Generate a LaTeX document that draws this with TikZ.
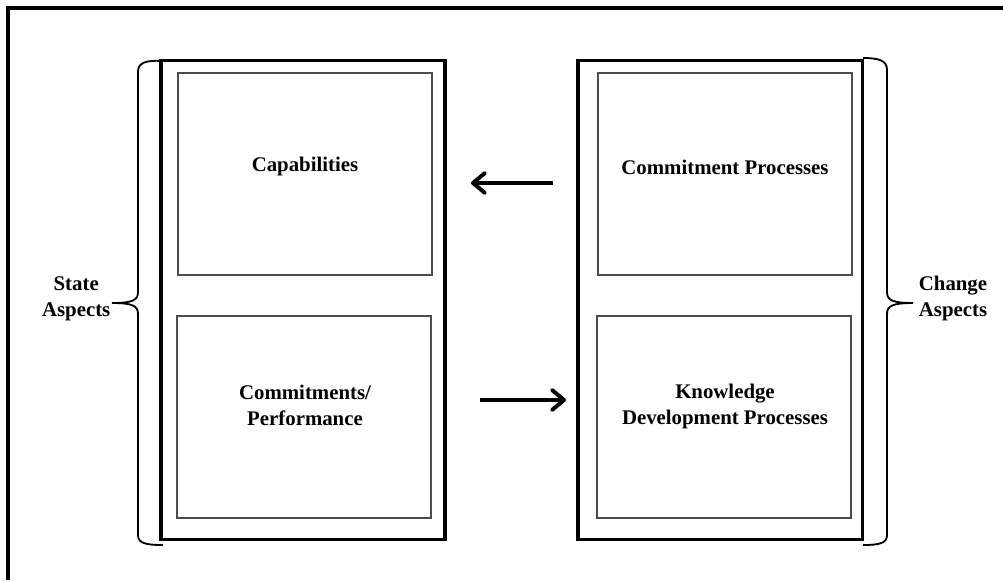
\documentclass[tikz,border=0pt]{standalone}
\usepackage{fontspec}
\setmainfont{Liberation Serif}
\usepackage{tikz}
\usetikzlibrary{positioning}
\usetikzlibrary{arrows.meta}

\tikzset{
	outerbox/.style={draw, line width=2.2pt, minimum width=7.1cm, minimum height=11.95cm, inner sep=0pt},
	innerbox/.style={draw=black!70, line width=0.9pt, minimum width=6.35cm, minimum height=5.05cm, inner sep=0pt},
	boxtext/.style={font=\fontsize{14.8}{18.5}\selectfont\bfseries, align=center, inner sep=0pt},
	flow/.style={line width=2.3pt, -{Straight Barb[length=3mm,width=5mm,line width=2.8pt,round]}},
	bracket/.style={line width=1.3pt}
}

\begin{document}
\begin{tikzpicture}[x=0.025cm, y=-0.025cm]
	\useasboundingbox (0,0) rectangle (1003,580);
	\draw[line width=2.2pt] (8,580) -- (8,8) -- (1003,8);
	
	% state side
	\node[outerbox] (state) at (303,300) {};
	\node[innerbox] (cap) at (305,174) {};
	\node[innerbox] (perf) at (304,417) {};
	\node[boxtext] (captext) at (305,166) {Capabilities};
	\node[boxtext] (perftext) at (305,405) {Commitments/\\Performance};
	
	% change side
	\node[outerbox] (change) at (720,300) {};
	\node[innerbox] (cproc) at (725,174) {};
	\node[innerbox] (kproc) at (724,417) {};
	\node[boxtext] (cproctext) at (725,167) {Commitment Processes};
	\node[boxtext] (kproctext) at (725,406) {Knowledge\\Development Processes};
	
	% arrows between the two columns
	\coordinate (cfrom) at (553,183);
	\coordinate (cto) at (471,183);
	\coordinate (kfrom) at (480,400);
	\coordinate (kto) at (566,400);
	\draw[flow] (cfrom) -- (cto);
	\draw[flow] (kfrom) -- (kto);
	
	% brackets and their labels
	\coordinate (ltip) at (112,303);
	\coordinate (rtip) at (913,303);
	\draw[bracket] (162,61) .. controls (145,60) and (138,63) .. (138,72) -- (138,292)
		.. controls (138,300) and (133,303) .. (ltip)
		.. controls (133,303) and (138,306) .. (138,314) -- (138,535)
		.. controls (138,543) and (145,545) .. (163,545);
	\draw[bracket] (863,58) .. controls (880,58) and (887,61) .. (887,70) -- (887,292)
		.. controls (887,300) and (892,303) .. (rtip)
		.. controls (892,303) and (887,306) .. (887,314) -- (887,535)
		.. controls (887,543) and (880,545) .. (863,545);
	\node[boxtext, left=1pt of ltip, yshift=3pt] (statetext) {State\\Aspects};
	\node[boxtext, right=4pt of rtip, yshift=3pt] (changetext) {Change\\Aspects};
\end{tikzpicture}
\end{document}
